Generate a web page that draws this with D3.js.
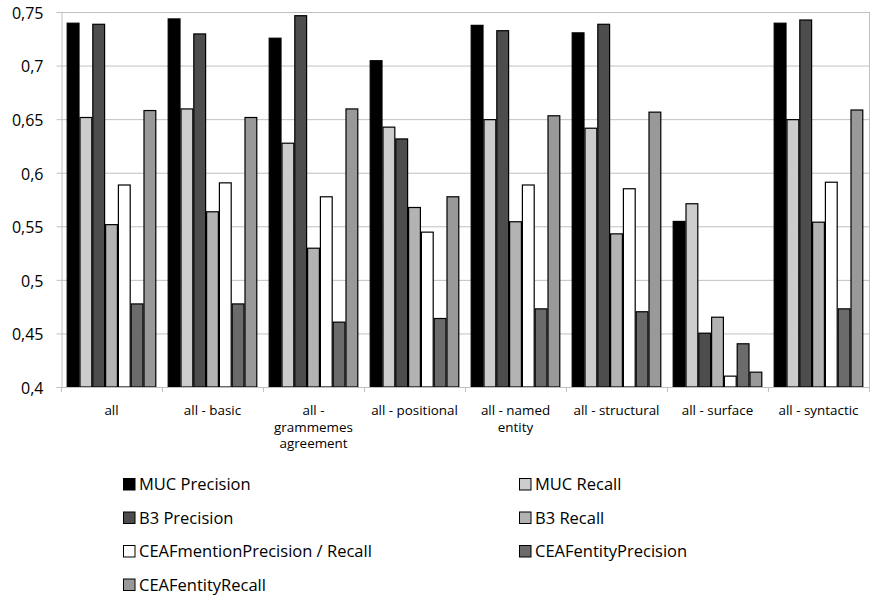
<!DOCTYPE html>
<html><head><meta charset="utf-8">
<script src="https://cdn.jsdelivr.net/npm/d3@7"></script>
<style>body{margin:0;background:#fff}svg{display:block}text{font-family:"Open Sans",Lato,sans-serif}</style>
</head><body>
<svg id="c" width="870" height="602"></svg>
<script>
const categories = ["all","all - basic","all - grammemes agreement","all - positional","all - named entity","all - structural","all - surface","all - syntactic"];
const categoryLines = [["all"],["all - basic"],["all -","grammemes","agreement"],["all - positional"],["all - named","entity"],["all - structural"],["all - surface"],["all - syntactic"]];
const seriesNames = ["MUC Precision","MUC Recall","B3 Precision","B3 Recall","CEAFmentionPrecision / Recall","CEAFentityPrecision","CEAFentityRecall"];
const seriesColors = ["#000000","#cccccc","#4d4d4d","#b3b3b3","#ffffff","#6b6b6b","#999999"];
const mucPrecision   = [0.740,0.744,0.726,0.705,0.738,0.731,0.555,0.740];
const mucRecall      = [0.652,0.660,0.628,0.643,0.650,0.642,0.5715,0.650];
const b3Precision    = [0.739,0.730,0.747,0.632,0.733,0.739,0.4507,0.743];
const b3Recall       = [0.552,0.564,0.530,0.568,0.5547,0.5434,0.4656,0.5543];
const ceafMention    = [0.589,0.591,0.578,0.545,0.589,0.5855,0.4106,0.5916];
const ceafEntityP    = [0.478,0.478,0.461,0.4644,0.4734,0.4707,0.4408,0.4734];
const ceafEntityR    = [0.6585,0.652,0.660,0.578,0.6536,0.657,0.4143,0.659];
const yTicks = [0.4,0.45,0.5,0.55,0.6,0.65,0.7,0.75];

const series = [mucPrecision,mucRecall,b3Precision,b3Recall,ceafMention,ceafEntityP,ceafEntityR];
const svg = d3.select("#c");
const L=61, R=869, T=12, B=387;
const y = d3.scaleLinear().domain([0.4,0.75]).range([B,T]);
const x0 = d3.scaleBand().domain(categories).range([L,R]).paddingInner(0.113).paddingOuter(0.0565);
const x1 = d3.scaleBand().domain(d3.range(seriesNames.length)).range([0,x0.bandwidth()]);
const fmt = v => d3.format(".2~f")(v).replace(".",",");

// gridlines
svg.append("g").selectAll("line").data(yTicks.filter(t=>t>0.4)).join("line")
  .attr("x1",L).attr("x2",R).attr("y1",d=>y(d)+0.5).attr("y2",d=>y(d)+0.5)
  .attr("stroke","#c0c0c0").attr("stroke-width",1);
// right border
svg.append("line").attr("x1",R+0.5).attr("x2",R+0.5).attr("y1",T).attr("y2",B).attr("stroke","#c0c0c0");

// y axis
const yAxis = svg.append("g").attr("transform",`translate(${L+0.5},0)`)
  .call(d3.axisLeft(y).tickValues(yTicks).tickFormat(fmt).tickSize(5).tickPadding(13));
yAxis.select(".domain").attr("stroke","#c0c0c0");
yAxis.selectAll(".tick line").attr("stroke","#c0c0c0");
yAxis.selectAll(".tick text").attr("font-size",16).attr("fill","#000")
  .attr("font-family","'Open Sans',sans-serif").attr("dy","0.4em");

// bars
const g = svg.append("g").selectAll("g").data(categories).join("g")
  .attr("transform",d=>`translate(${x0(d)},0)`);
g.selectAll("rect").data((d,i)=>series.map((s,k)=>({k,v:s[i]}))).join("rect")
  .attr("x",d=>x1(d.k)+0.5).attr("width",x1.bandwidth()-1)
  .attr("y",d=>y(d.v)+0.5).attr("height",d=>y(0.4)-y(d.v)-0.5)
  .attr("fill",d=>seriesColors[d.k]).attr("stroke","#000").attr("stroke-width",1.2);

// x axis
const step = (R-L)/categories.length;
const xg = svg.append("g");
xg.append("line").attr("x1",L).attr("x2",R).attr("y1",B+0.5).attr("y2",B+0.5).attr("stroke","#c0c0c0");
xg.selectAll("line.tk").data(d3.range(categories.length+1)).join("line").attr("class","tk")
  .attr("x1",i=>Math.round(L+i*step)+0.5).attr("x2",i=>Math.round(L+i*step)+0.5)
  .attr("y1",B).attr("y2",B+5).attr("stroke","#c0c0c0");
categories.forEach((c,i)=>{
  const t = xg.append("text").attr("x",x0(c)+x0.bandwidth()/2).attr("y",415)
    .attr("text-anchor","middle").attr("font-size",13.4).attr("fill","#000");
  categoryLines[i].forEach((ln,j)=>t.append("tspan").attr("x",x0(c)+x0.bandwidth()/2).attr("dy",j?16.5:0).text(ln));
});

// legend
const lg = svg.append("g");
seriesNames.forEach((n,i)=>{
  const col=i%2,row=Math.floor(i/2);
  const lx = col? 519:123, ly = 490+row*33.5;
  lg.append("rect").attr("x",lx+0.5).attr("y",ly-11.5).attr("width",11.5).attr("height",11.5)
    .attr("fill",seriesColors[i]).attr("stroke","#000").attr("stroke-width",1);
  lg.append("text").attr("x",lx+16).attr("y",ly).attr("font-size",16.5).attr("fill","#000").text(n);
});
</script>
</body></html>
